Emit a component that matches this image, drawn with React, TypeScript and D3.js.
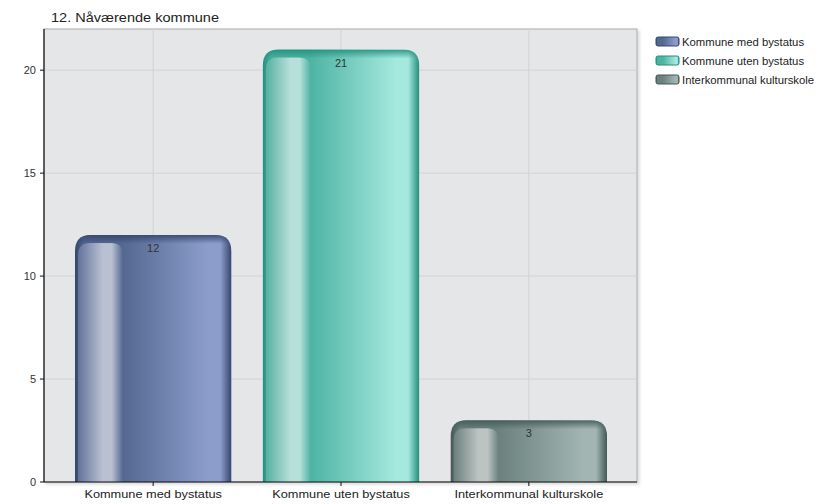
import React from "react";
import * as d3 from "d3";

const categories = ["Kommune med bystatus", "Kommune uten bystatus", "Interkommunal kulturskole"];
const values = [12, 21, 3];
const yTicks = [0, 5, 10, 15, 20];
const title = "12. Nåværende kommune";

const palettes = [
  { dark: "#36466f", mid: "#53678f", light: "#8c9dcc", stripe: "#b9c0d2", stripeDark: "#62739b" },
  { dark: "#23907d", mid: "#4db3a3", light: "#a4e8de", stripe: "#b8e0da", stripeDark: "#56b0a2" },
  { dark: "#425954", mid: "#6a817e", light: "#a2b5b2", stripe: "#bcc4c2", stripeDark: "#6a807e" },
];

const W = 832, H = 504;
const plot = { left: 44, right: 637, top: 29, bottom: 482 };
const font = "'Liberation Sans', Arial, sans-serif";

export default function App() {
  const x = d3.scaleBand<string>().domain(categories).range([plot.left, plot.right + 1]).paddingInner(0.168).paddingOuter(0.165);
  const y = d3.scaleLinear().domain([0, 22]).range([plot.bottom, plot.top]);
  const bw = x.bandwidth();
  const r = 16;

  const barPath = (x0: number, y0: number, w: number, y1: number, rad: number) => {
    const rr = Math.min(rad, (y1 - y0));
    return `M${x0},${y1} L${x0},${y0 + rr} Q${x0},${y0} ${x0 + rr},${y0} L${x0 + w - rr},${y0} Q${x0 + w},${y0} ${x0 + w},${y0 + rr} L${x0 + w},${y1} Z`;
  };

  return (
    <svg width={W} height={H} style={{ position: "absolute", left: 0, top: 0, fontFamily: font }}>
      <defs>
        {palettes.map((p, i) => (
          <React.Fragment key={i}>
            <linearGradient id={`main${i}`} x1="0" x2="1" y1="0" y2="0">
              <stop offset="0" stopColor={p.dark} />
              <stop offset="0.06" stopColor={p.mid} />
              <stop offset="0.3" stopColor={p.mid} />
              <stop offset="0.85" stopColor={p.light} />
              <stop offset="0.93" stopColor={p.light} />
              <stop offset="1" stopColor={p.dark} />
            </linearGradient>
            <linearGradient id={`stripe${i}`} x1="0" x2="1" y1="0" y2="0">
              <stop offset="0" stopColor={p.stripeDark} />
              <stop offset="0.55" stopColor={p.stripe} />
              <stop offset="0.75" stopColor={p.stripe} />
              <stop offset="1" stopColor={p.mid} />
            </linearGradient>
            <linearGradient id={`top${i}`} x1="0" x2="0" y1="0" y2="1">
              <stop offset="0" stopColor={p.dark} stopOpacity="0.9" />
              <stop offset="1" stopColor={p.dark} stopOpacity="0" />
            </linearGradient>
            <clipPath id={`clip${i}`}>
              <path d={barPath(x(categories[i])!, y(values[i]), bw, y(0), r)} />
            </clipPath>
          </React.Fragment>
        ))}
        <filter id="shadow" x="-5%" y="-5%" width="110%" height="110%">
          <feDropShadow dx="2" dy="2" stdDeviation="1.5" floodColor="#000" floodOpacity="0.15" />
        </filter>
      </defs>

      <text x={51} y={22} fontSize={12} fill="#222" textLength={168} lengthAdjust="spacingAndGlyphs">{title}</text>

      <rect x={plot.left} y={plot.top} width={plot.right - plot.left} height={plot.bottom - plot.top} fill="#e5e6e8" stroke="#a9aaac" strokeWidth={1} filter="url(#shadow)" />

      {yTicks.filter(t => t > 0).map(t => (
        <line key={t} x1={plot.left} x2={plot.right} y1={y(t)} y2={y(t)} stroke="#d2d3d6" strokeWidth={1} />
      ))}
      {categories.map(c => (
        <line key={c} x1={x(c)! + bw / 2} x2={x(c)! + bw / 2} y1={plot.top} y2={plot.bottom} stroke="#d2d3d6" strokeWidth={1} />
      ))}

      {categories.map((c, i) => {
        const x0 = x(c)!;
        const y0 = y(values[i]);
        const y1 = y(0);
        return (
          <g key={c}>
            <path d={barPath(x0, y0, bw, y1, r)} fill={`url(#main${i})`} />
            <g clipPath={`url(#clip${i})`}>
              <path d={barPath(x0 + 3, y0 + 8, 45, y1, 12)} fill={`url(#stripe${i})`} />
              <rect x={x0} y={y0} width={bw} height={9} fill={`url(#top${i})`} />
            </g>
            <text x={x0 + bw / 2} y={y0 + 17} textAnchor="middle" fontSize={11} fill="#333">{values[i]}</text>
          </g>
        );
      })}

      <line x1={plot.left} x2={plot.left} y1={plot.top} y2={plot.bottom} stroke="#111" strokeWidth={1.2} />
      <line x1={plot.left} x2={plot.right} y1={plot.bottom} y2={plot.bottom} stroke="#111" strokeWidth={1.2} />

      {yTicks.map(t => (
        <g key={t}>
          <line x1={plot.left - 4} x2={plot.left} y1={y(t)} y2={y(t)} stroke="#111" />
          <text x={plot.left - 8} y={y(t) + 4} textAnchor="end" fontSize={11} fill="#333">{t}</text>
        </g>
      ))}
      {categories.map(c => (
        <g key={c}>
          <line x1={x(c)! + bw / 2} x2={x(c)! + bw / 2} y1={plot.bottom} y2={plot.bottom + 4} stroke="#111" />
          <g transform={`translate(${x(c)! + bw / 2}, ${plot.bottom + 16}) scale(1.16, 1)`}>
            <text x={0} y={0} textAnchor="middle" fontSize={11} fill="#222">{c}</text>
          </g>
        </g>
      ))}

      {categories.map((c, i) => (
        <g key={c} transform={`translate(656, ${37 + i * 19})`}>
          <rect x={0} y={0} width={23} height={9} rx={2} fill={`url(#main${i})`} stroke={palettes[i].dark} strokeWidth={1} />
          <g transform="translate(26, 8.5) scale(1.03, 1)">
            <text x={0} y={0} fontSize={11} fill="#222">{c}</text>
          </g>
        </g>
      ))}
    </svg>
  );
}
